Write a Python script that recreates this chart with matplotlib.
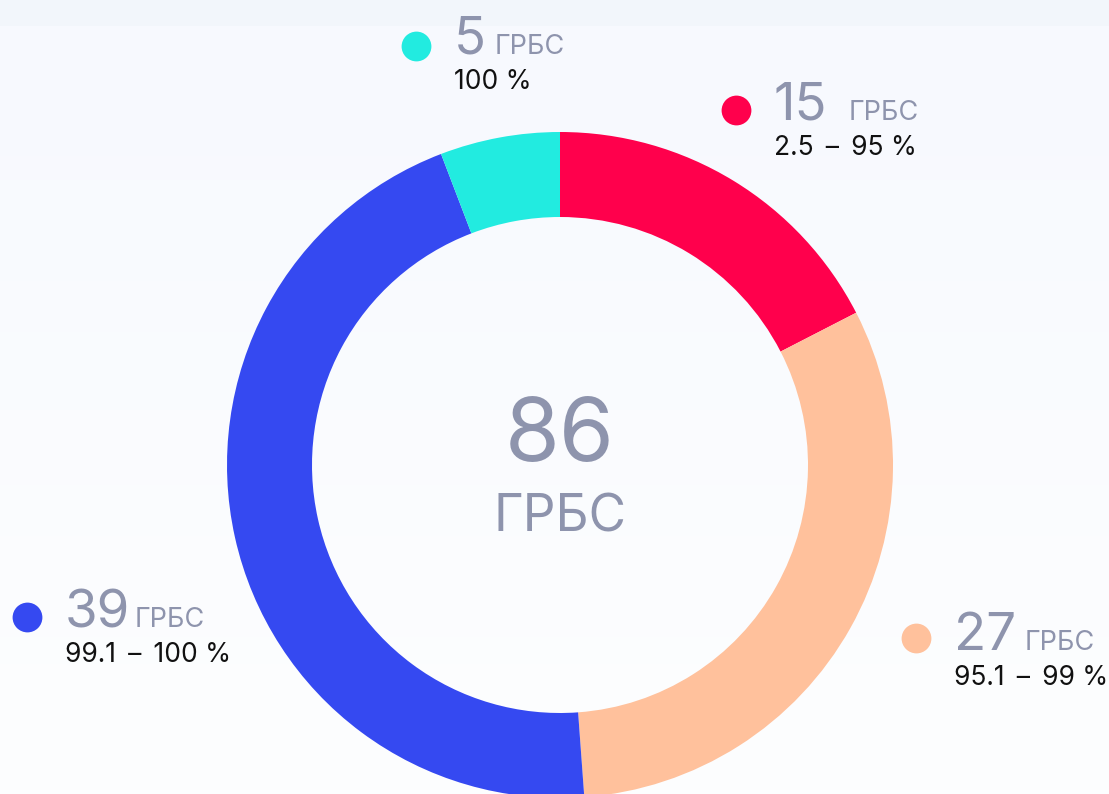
import numpy as np
import matplotlib
matplotlib.use("Agg")
import matplotlib.pyplot as plt
from matplotlib.colors import LinearSegmentedColormap

# data
counts = [15, 27, 39, 5]
ranges = ["2.5 – 95 %", "95.1 – 99 %", "99.1 – 100 %", "100 %"]
colors = ["#ff004c", "#ffc19c", "#3549f1", "#22ebe0"]
unit = "ГРБС"
total = sum(counts)

W, H = 1109, 794
GREY = "#8e94ad"
FONT = ["Inter", "DejaVu Sans"]

fig = plt.figure(figsize=(W / 100, H / 100), dpi=100)
ax = fig.add_axes([0, 0, 1, 1])

# background: top strip + soft vertical gradient
bg = LinearSegmentedColormap.from_list("bg", ["#fdfeff", "#f7f9fe"])
grad = np.linspace(0, 1, 256).reshape(-1, 1)
ax.imshow(grad, cmap=bg, extent=[0, W, 0, H - 26], aspect="auto", origin="lower", zorder=0)
ax.fill_between([0, W], H - 26, H, color="#f2f6fb", zorder=0, linewidth=0)


def py(y):
    return H - y


# donut, clockwise from top
ax.pie(counts, colors=colors, startangle=90, counterclock=False,
       center=(560, py(465)), radius=333,
       wedgeprops=dict(width=85, linewidth=0), frame=True)
ax.set_xlim(0, W)
ax.set_ylim(0, H)
ax.axis("off")
ax.set_aspect("equal")

# centre label
ax.text(560, py(461), str(total), fontsize=64, color=GREY, family=FONT,
        ha="center", va="baseline")
ax.text(560, py(531), unit, fontsize=37, color=GREY, family=FONT,
        ha="center", va="baseline")

# legend labels: (dot x, dot y, text x, number baseline, unit x)
label_pos = [
    (736, 110, 774, 120, 849),
    (916, 638, 954, 650, 1025),
    (27, 617, 65, 627, 135),
    (416, 46, 454, 54, 495),
]

for cnt, rng, col, (dx, dy, tx, by, ux) in zip(counts, ranges, colors, label_pos):
    ax.scatter([dx], [py(dy)], s=460, color=col, zorder=5, linewidths=0)
    ax.text(tx, py(by), str(cnt), fontsize=38, color=GREY, family=FONT,
            ha="left", va="baseline")
    ax.text(ux, py(by), unit, fontsize=19.5, color=GREY, family=FONT,
            ha="left", va="baseline")
    ax.text(tx, py(by + 35), rng.replace(" – ", " \u2009–\u2009 "), fontsize=19,
            color="#111111", family=FONT, ha="left", va="baseline")

fig.savefig("out.png", dpi=100)
